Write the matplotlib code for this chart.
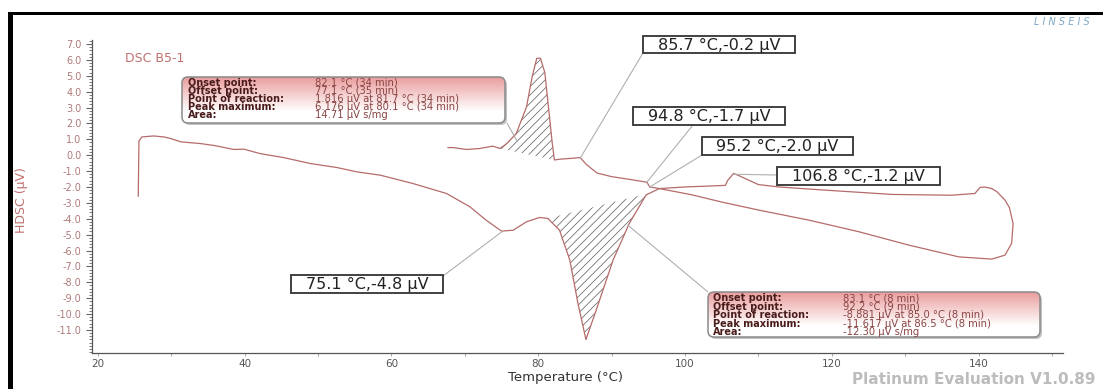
"""
DSC B5-1 曲线复刻 (Linseis Platinum Evaluation 风格)
"""

import matplotlib
matplotlib.use('Agg')
import matplotlib.pyplot as plt
import numpy as np
from matplotlib.patches import FancyBboxPatch, Rectangle
from matplotlib.ticker import MultipleLocator, FormatStrFormatter

# 加热段 (温度 °C, HDSC µV)
heat_T = [25.5, 25.6, 26.0, 27.6, 29.0, 29.9, 31.3, 34.0, 36.0, 38.5, 39.9, 42.1, 45.3,
          48.9, 52.6, 55.3, 58.5, 62.9, 67.5, 70.7, 72.9, 75.0, 76.6, 78.4, 80.2, 81.3,
          82.9, 84.3, 85.4, 86.5, 87.9, 90.2, 92.4, 94.7, 96.5, 101.0, 105.0, 110.1,
          116.9, 123.7, 130.5, 137.3, 141.8, 143.6, 144.5, 144.7, 144.2, 143.6, 142.5, 141.8]
heat_v = [-2.58, 0.9, 1.15, 1.21, 1.15, 1.05, 0.84, 0.73, 0.6, 0.36, 0.38, 0.1, -0.15,
          -0.52, -0.78, -1.05, -1.26, -1.78, -2.41, -3.25, -4.09, -4.78, -4.72, -4.19, -3.92, -3.98,
          -4.72, -6.6, -9.3, -11.6, -9.75, -6.6, -4.3, -2.5, -2.1, -2.5, -2.95, -3.46,
          -4.09, -4.82, -5.66, -6.4, -6.54, -6.29, -5.55, -4.3, -3.3, -2.83, -2.3, -2.1]

# 冷却段
cool_T = [141.8, 140.8, 140.2, 139.5, 136.3, 128.2, 119.1, 112.8, 110.0, 107.4, 106.6,
          105.8, 105.5, 100.0, 96.5, 95.2, 94.8, 92.8, 90.0, 88.0, 86.6, 86.0, 85.7, 84.5,
          83.0, 82.2, 81.9, 81.4, 80.9, 80.3, 79.8, 79.2, 78.4, 77.0, 75.7, 74.8, 73.8,
          72.0, 70.2, 68.4, 67.7]
cool_v = [-2.1, -2.0, -2.03, -2.41, -2.52, -2.47, -2.2, -2.0, -1.85, -1.3, -1.15,
          -1.6, -1.9, -2.0, -2.1, -2.0, -1.7, -1.55, -1.35, -1.12, -0.6, -0.3, -0.15, -0.2,
          -0.25, -0.3, 0.8, 3.0, 5.2, 6.1, 6.1, 5.0, 3.04, 1.36, 0.73, 0.42, 0.57,
          0.42, 0.36, 0.48, 0.48]

# 积分基线
heat_base_T = [81.3, 95.0]
heat_base_v = [-3.98, -2.4]
cool_base_T = [74.8, 82.2]
cool_base_v = [0.42, -0.3]

# 标注点
marks = [(85.7, -0.2), (94.8, -1.7), (95.2, -2.0), (106.8, -1.2), (75.1, -4.8)]

info_labels = ['Onset point:', 'Offset point:', 'Point of reaction:', 'Peak maximum:', 'Area:']
info_cool = ['82.1 °C (34 min)', '77.1 °C (35 min)', '1.816 µV at 81.7 °C (34 min)',
             '6.176 µV at 80.1 °C (34 min)', '14.71 µV s/mg']
info_heat = ['83.1 °C (8 min)', '92.2 °C (9 min)', '-8.881 µV at 85.0 °C (8 min)',
             '-11.617 µV at 86.5 °C (8 min)', '-12.30 µV s/mg']

W, H = 1103, 389
CURVE = '#b56b6b'
plt.rcParams['hatch.linewidth'] = 0.55


def fp(x, y):
    """参考图像素 -> figure fraction"""
    return (x / W, 1 - y / H)


def info_box(fig, x0, y0, x1, y1, values, lx, vx, ys):
    """带渐变底色的信息框"""
    bax = fig.add_axes([(x0 - 3) / W, 1 - (y1 + 5) / H, (x1 - x0 + 8) / W, (y1 - y0 + 8) / H])
    bax.set_xlim(x0 - 3, x1 + 5)
    bax.set_ylim(y1 + 5, y0 - 3)
    bax.axis('off')
    shadow = FancyBboxPatch((x0 + 2, y0 + 2), x1 - x0, y1 - y0,
                            boxstyle='round,pad=0,rounding_size=6',
                            fc='#9a9a9a', ec='none', alpha=0.6, zorder=0)
    bax.add_patch(shadow)
    t = np.linspace(0, 1, 60)
    top = np.array([0.92, 0.62, 0.62])
    mix = np.clip(t / 0.75, 0, 1)[:, None]
    grad = (top * (1 - mix) + 1.0 * mix)[:, None, :]
    im = bax.imshow(grad, extent=[x0, x1, y1, y0], aspect='auto', origin='upper', zorder=1)
    frame = FancyBboxPatch((x0, y0), x1 - x0, y1 - y0,
                           boxstyle='round,pad=0,rounding_size=6',
                           fc='none', ec='#8a8a8a', lw=1.1, zorder=2)
    bax.add_patch(frame)
    im.set_clip_path(frame)
    for lab, val, yy in zip(info_labels, values, ys):
        bax.text(lx, yy, lab, fontsize=7, fontweight='bold', color='#4a1c1c',
                 va='center', zorder=3)
        bax.text(vx, yy, val, fontsize=7.2, color='#8a4444', va='center', zorder=3)


fig = plt.figure(figsize=(W / 100, H / 100), dpi=100)
ax = fig.add_axes([92 / W, 1 - 353 / H, (1063 - 92) / W, (353 - 40) / H])

ax.plot(heat_T, heat_v, color=CURVE, lw=0.9)
ax.plot(cool_T, cool_v, color=CURVE, lw=0.9)

# 加热峰阴影
k = heat_T.index(101.0) + 1
tf = np.linspace(heat_base_T[0], heat_base_T[1], 200)
ax.fill_between(tf, np.interp(tf, heat_T[:k], heat_v[:k]),
                np.interp(tf, heat_base_T, heat_base_v),
                facecolor='none', edgecolor='#666666', hatch='////', lw=0)

# 冷却峰阴影
i0 = cool_T.index(82.2)
ct = np.array(cool_T[i0:][::-1])
cv = np.array(cool_v[i0:][::-1])
tc = np.linspace(cool_base_T[0], cool_base_T[1], 120)
ax.fill_between(tc, np.interp(tc, ct, cv), np.interp(tc, cool_base_T, cool_base_v),
                facecolor='none', edgecolor='#666666', hatch='////', lw=0)

ax.set_xlim(19.2, 151.5)
ax.set_ylim(-12.45, 7.25)
for s in ['top', 'right']:
    ax.spines[s].set_visible(False)
for s in ['left', 'bottom']:
    ax.spines[s].set_color('#555555')
    ax.spines[s].set_linewidth(0.9)
ax.xaxis.set_major_locator(MultipleLocator(20))
ax.xaxis.set_minor_locator(MultipleLocator(10))
ax.yaxis.set_minor_locator(MultipleLocator(0.2))
ax.yaxis.set_major_formatter(FormatStrFormatter('%.1f'))
ax.set_yticks(np.arange(-11, 8, 1.0))
ax.tick_params(axis='y', which='major', labelsize=7, labelcolor='#b07a7a',
               color='#666666', length=4, width=0.8)
ax.tick_params(axis='y', which='minor', color='#666666', length=2, width=0.6)
ax.tick_params(axis='x', which='major', labelsize=7.5, labelcolor='#555555',
               color='#999999', length=2.5, width=0.6, pad=1.5)
ax.tick_params(axis='x', which='minor', color='#999999', length=2, width=0.6)

# 数值标注框 (框的像素范围, 引线起点)
box_pos = [((643, 36, 795, 53), (643, 53)),
           ((633, 107, 785, 125), (693, 125)),
           ((702, 137, 853, 155), (702, 155)),
           ((777, 167, 940, 185), (777, 175)),
           ((291, 275, 443, 293), (443, 276))]
for (T, v), ((x0, y0, x1, y1), start) in zip(marks, box_pos):
    ax.annotate('', xy=(T, v), xycoords='data', xytext=fp(*start),
                textcoords='figure fraction',
                arrowprops=dict(arrowstyle='-', color='#b0b0b0', lw=0.8,
                                shrinkA=0, shrinkB=0))
    fig.patches.append(Rectangle(fp(x0, y1), (x1 - x0) / W, (y1 - y0) / H,
                                 transform=fig.transFigure, fc='white', ec='#333333',
                                 lw=1.3, figure=fig, zorder=3))
    fig.text(*fp((x0 + x1) / 2, (y0 + y1) / 2 + 0.5), f'{T} °C,{v} µV', fontsize=11.5,
             color='#222222', ha='center', va='center', zorder=4)

# 信息框引线
ax.annotate('', xy=(77.1, 0.9), xycoords='data', xytext=fp(507, 123),
            textcoords='figure fraction',
            arrowprops=dict(arrowstyle='-', color='#b0b0b0', lw=0.8, shrinkA=0, shrinkB=0))
ax.annotate('', xy=(92.2, -4.4), xycoords='data', xytext=fp(708, 292),
            textcoords='figure fraction',
            arrowprops=dict(arrowstyle='-', color='#b0b0b0', lw=0.8, shrinkA=0, shrinkB=0))

info_box(fig, 182, 77, 505, 123, info_cool, 188, 315, [83, 91, 99, 107, 115])
info_box(fig, 708, 292, 1040, 337, info_heat, 713, 843, [298.5, 307, 315.5, 324, 332.5])

# 文字
fig.text(*fp(125, 58), 'DSC B5-1', fontsize=9, color='#c07070', va='center')
fig.text(*fp(22, 200), 'HDSC (µV)', fontsize=9, color='#c07070', rotation=90,
         ha='center', va='center')
fig.text(*fp(565, 377), 'Temperature (°C)', fontsize=9.5, color='#333333',
         ha='center', va='center')
fig.text(*fp(1095, 380), 'Platinum Evaluation V1.0.89', fontsize=11, color='#bcbcbc',
         fontweight='bold', ha='right', va='center')
fig.text(*fp(1090, 22), 'L I N S E I S', fontsize=7, color='#7fa8c8', style='italic',
         ha='right', va='center')

# 黑色边框
fig.patches.append(Rectangle(fp(8, 389), 5 / W, 377 / H, transform=fig.transFigure,
                             fc='black', ec='none', figure=fig))
fig.patches.append(Rectangle(fp(8, 15), (W - 8) / W, 3 / H, transform=fig.transFigure,
                             fc='black', ec='none', figure=fig))

fig.savefig('out.png', dpi=100)
